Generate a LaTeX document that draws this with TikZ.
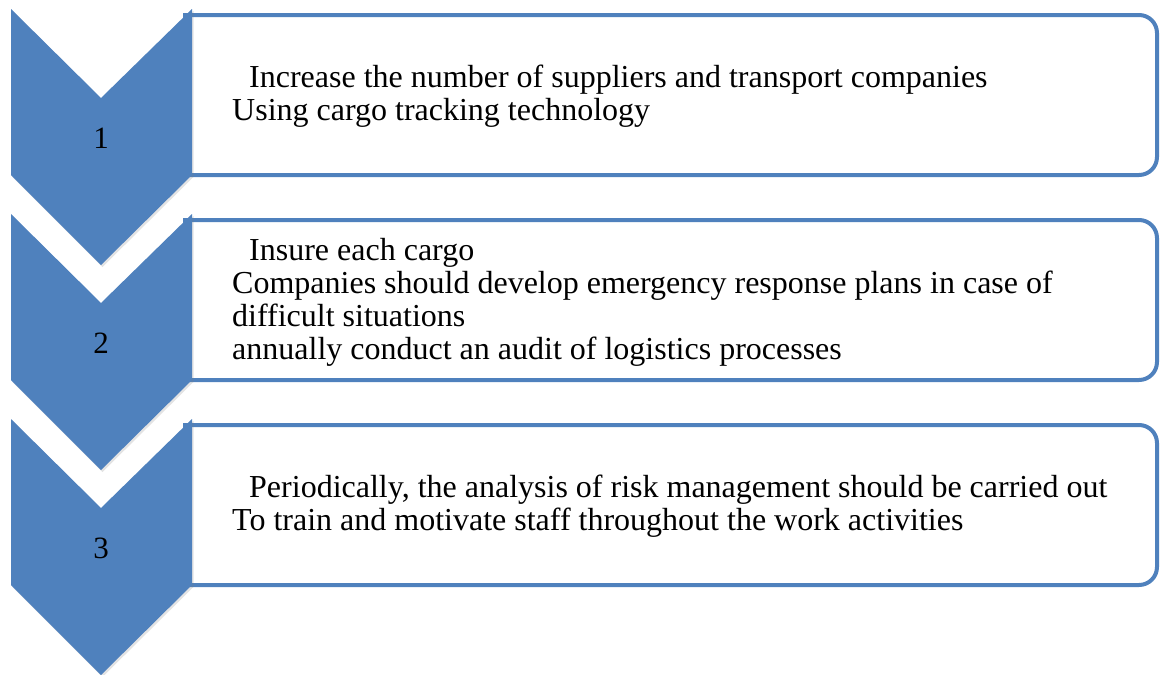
\documentclass[tikz,border=0pt]{standalone}
\usepackage{fontspec}
\setmainfont{Liberation Serif}
\usetikzlibrary{shadows}
\definecolor{ofblue}{RGB}{79,129,189}
\begin{document}
\begin{tikzpicture}[x=1pt,y=-1pt,
  chev/.style={fill=ofblue, draw=none, drop shadow={opacity=0.22, shadow xshift=1.5pt, shadow yshift=-2pt}},
  stepbox/.style={draw=ofblue, line width=4pt, fill=white},
  numtxt/.style={font=\fontsize{31}{33}\selectfont, anchor=base, inner sep=0pt},
  boxtxt/.style={font=\fontsize{32}{33}\selectfont, anchor=west, align=left, inner sep=0pt}]
\useasboundingbox (0,0) rectangle (1160,675);
\foreach \t/\n in {9/1,214/2,419/3}{
  \draw[stepbox] (185,\t+6) -- (600,\t+6) [rounded corners=18pt] -- (1157,\t+6) -- (1157,\t+166) -- (600,\t+166) [sharp corners] -- (185,\t+166) -- cycle;
}
\foreach \t/\n in {9/1,214/2,419/3}{
  \path[chev] (11,\t) -- (101,\t+89) -- (192,\t) -- (192,\t+166) -- (101,\t+256) -- (11,\t+166) -- cycle;
  \node[numtxt] (num\n) at (101,\t+139) {\n};
}
\node[boxtxt] (txt1) at (232,96) {\hspace*{17pt}Increase the number of suppliers and transport companies\\Using cargo tracking technology};
\node[boxtxt] (txt2) at (232,302) {\hspace*{17pt}Insure each cargo\\Companies should develop emergency response plans in case of\\difficult situations\\annually conduct an audit of logistics processes};
\node[boxtxt] (txt3) at (232,506) {\hspace*{17pt}Periodically, the analysis of risk management should be carried out\\To train and motivate staff throughout the work activities};
\end{tikzpicture}
\end{document}
